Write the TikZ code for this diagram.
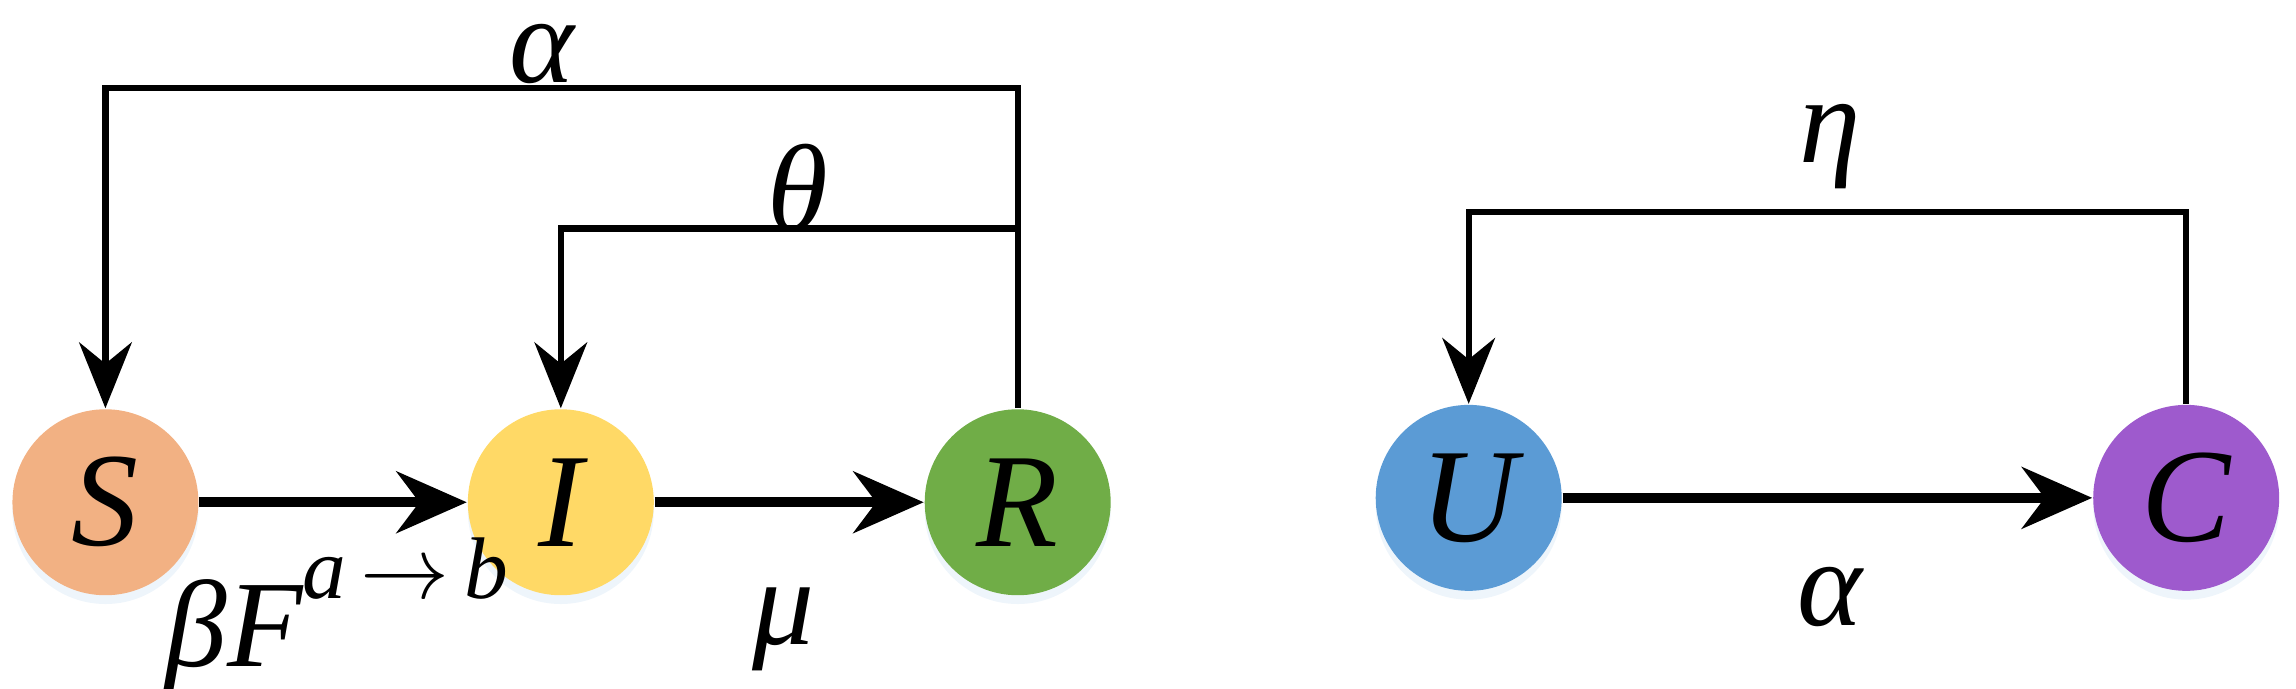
\documentclass[tikz,border=0pt]{standalone}
\usepackage{fontspec}
\setmainfont{Liberation Serif}
\usetikzlibrary{arrows.meta}
\usetikzlibrary{shadows}
\definecolor{colS}{HTML}{F2B183}
\definecolor{colI}{HTML}{FFD966}
\definecolor{colR}{HTML}{70AD47}
\definecolor{colU}{HTML}{5B9BD5}
\definecolor{colC}{HTML}{9E5ACD}
\begin{document}
\begin{tikzpicture}
	[state/.style={circle, minimum size=1.27cm, inner sep=0pt, font=\fontsize{26}{30}\selectfont\itshape,
		drop shadow={opacity=0.25, fill=colU!40, shadow xshift=0pt, shadow yshift=-0.6mm}},
	 flow/.style={-{Stealth[length=4.8mm,width=4.2mm]}, line width=2pt},
	 back/.style={-{Stealth[length=4.5mm,width=3.6mm]}, line width=1.2pt},
	 lab/.style={font=\fontsize{24}{28}\selectfont\itshape}]
	\useasboundingbox (0,0) rectangle (15.68,4.70);

	%states
	\node (S) [state, fill=colS] at (0.72,1.27) {S};
	\node (I) [state, fill=colI] at (3.83,1.27) {I};
	\node (R) [state, fill=colR] at (6.95,1.27) {R};
	\node (U) [state, fill=colU] at (10.03,1.30) {U};
	\node (C) [state, fill=colC] at (14.93,1.30) {C};

	%forward
	\draw[flow] (S.east) -- (I.west);
	\draw[flow] (I.east) -- (R.west);
	\draw[flow] (U.east) -- (C.west);

	%feedback
	\coordinate (top) at (6.95,4.10);
	\coordinate (mid) at (6.95,3.14);
	\draw[back] (R.north) -- (top) -| (S.north);
	\draw[back] (mid) -| (I.north);
	\draw[back] (C.north) |- (10.03,3.25) -- (U.north);

	%labels
	\node (la) [lab] at (3.70,4.33) {α};
	\node (lt) [lab] at (5.45,3.42) {θ};
	\node (lb) [lab] at (2.30,0.50) {βF\raisebox{1.2ex}{\fontsize{17}{20}\selectfont a\,$\rightarrow$\,b}};
	\node (lm) [lab] at (5.35,0.40) {μ};
	\node (le) [lab] at (12.50,3.70) {η};
	\node (lc) [lab] at (12.50,0.62) {α};
\end{tikzpicture}
\end{document}
